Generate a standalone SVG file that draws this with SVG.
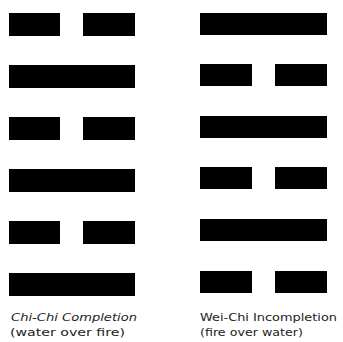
<svg xmlns="http://www.w3.org/2000/svg" width="343" height="342" viewBox="0 0 343 342">
<style>
.bar{fill:#000}
.lbl{font-family:"Comic Sans MS","DejaVu Sans","Liberation Sans",sans-serif;font-size:11px;fill:#222}
.it{font-style:italic}
</style>
<rect width="343" height="342" fill="#fff"/>
<g id="chi-chi">
<rect class="bar" x="9" y="13" width="51" height="23"/>
<rect class="bar" x="83" y="13" width="52" height="23"/>
<rect class="bar" x="9" y="65" width="126" height="23"/>
<rect class="bar" x="9" y="117" width="51" height="23"/>
<rect class="bar" x="83" y="117" width="52" height="23"/>
<rect class="bar" x="9" y="169" width="126" height="23"/>
<rect class="bar" x="9" y="221" width="51" height="23"/>
<rect class="bar" x="83" y="221" width="52" height="23"/>
<rect class="bar" x="9" y="273" width="126" height="23"/>
<text class="lbl it" x="11" y="321" textLength="126" lengthAdjust="spacingAndGlyphs">Chi-Chi Completion</text>
<text class="lbl" x="10" y="336" textLength="115" lengthAdjust="spacingAndGlyphs">(water over fire)</text>
</g>
<g id="wei-chi">
<rect class="bar" x="200" y="13" width="127" height="22"/>
<rect class="bar" x="200" y="64" width="52" height="22"/>
<rect class="bar" x="275" y="64" width="52" height="22"/>
<rect class="bar" x="200" y="116" width="127" height="22"/>
<rect class="bar" x="200" y="167" width="52" height="22"/>
<rect class="bar" x="275" y="167" width="52" height="22"/>
<rect class="bar" x="200" y="219" width="127" height="22"/>
<rect class="bar" x="200" y="271" width="52" height="22"/>
<rect class="bar" x="275" y="271" width="52" height="22"/>
<text class="lbl" x="200" y="321" textLength="137" lengthAdjust="spacingAndGlyphs">Wei-Chi Incompletion</text>
<text class="lbl" x="200" y="336" textLength="103" lengthAdjust="spacingAndGlyphs">(fire over water)</text>
</g>
<g id="connectors"/>
</svg>
